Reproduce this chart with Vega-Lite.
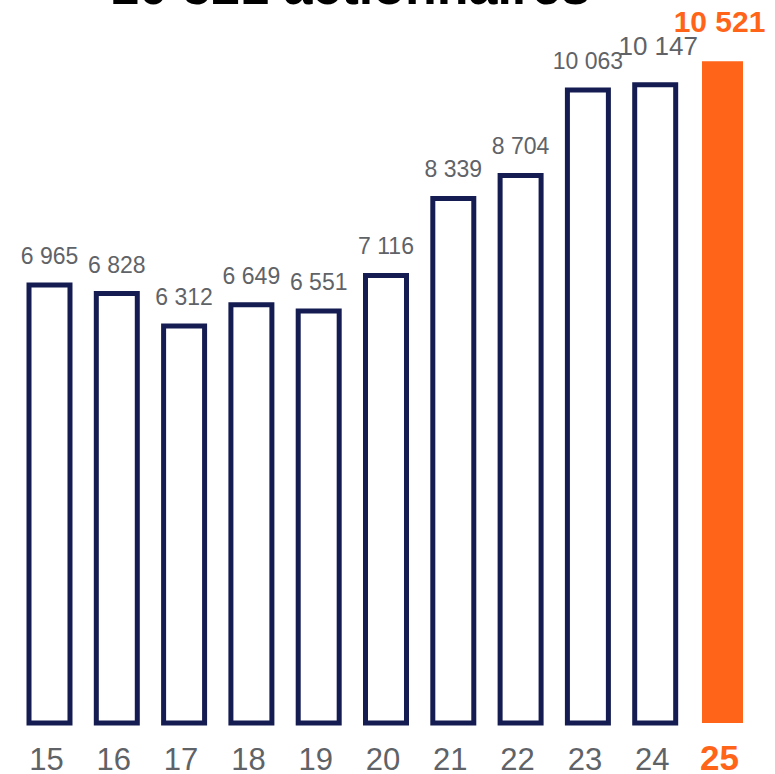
{
  "$schema": "https://vega.github.io/schema/vega-lite/v6.json",
  "autosize": {"type": "none"},
  "padding": {"left": 0, "top": 0, "right": 3, "bottom": 51},
  "width": 772,
  "height": 723,
  "background": "white",
  "config": {
    "view": {"stroke": null},
    "locale": {"number": {"decimal": ",", "thousands": " ", "grouping": [3], "currency": ["", " €"]}}
  },
  "data": {
    "values": [
      {"year": "15", "shareholders": 6965},
      {"year": "16", "shareholders": 6828},
      {"year": "17", "shareholders": 6312},
      {"year": "18", "shareholders": 6649},
      {"year": "19", "shareholders": 6551},
      {"year": "20", "shareholders": 7116},
      {"year": "21", "shareholders": 8339},
      {"year": "22", "shareholders": 8704},
      {"year": "23", "shareholders": 10063},
      {"year": "24", "shareholders": 10147},
      {"year": "25", "shareholders": 10521}
    ]
  },
  "encoding": {
    "x": {
      "field": "year",
      "type": "ordinal",
      "sort": null,
      "scale": {"paddingInner": 0.391, "paddingOuter": 0.431},
      "axis": {
        "title": null,
        "domain": false,
        "ticks": false,
        "tickSize": 0,
        "grid": false,
        "labelAngle": 0,
        "labelBaseline": "alphabetic",
        "labelPadding": 46,
        "labelOffset": -3,
        "labelFont": "Liberation Sans",
        "labelFontSize": {"condition": {"test": "datum.value === '25'", "value": 35}, "value": 31},
        "labelFontWeight": {"condition": {"test": "datum.value === '25'", "value": "bold"}, "value": "normal"},
        "labelColor": {"condition": {"test": "datum.value === '25'", "value": "#FF6418"}, "value": "#5F6367"}
      }
    },
    "y": {
      "field": "shareholders",
      "type": "quantitative",
      "scale": {"domain": [0, 11494], "nice": false, "zero": true},
      "axis": null
    }
  },
  "layer": [
    {
      "transform": [{"filter": "datum.year !== '25'"}],
      "mark": {"type": "bar", "fill": "white", "stroke": "#141C52", "strokeWidth": 5}
    },
    {
      "transform": [{"filter": "datum.year === '25'"}],
      "mark": {"type": "bar", "fill": "#FF6418"}
    },
    {
      "transform": [{"filter": "datum.year !== '25' && datum.year !== '24'"}],
      "mark": {"type": "text", "font": "Liberation Sans", "fontSize": 23, "color": "#5F6367", "baseline": "alphabetic", "dy": -21},
      "encoding": {"text": {"field": "shareholders", "type": "quantitative", "format": ","}}
    },
    {
      "transform": [{"filter": "datum.year === '24'"}],
      "mark": {"type": "text", "font": "Liberation Sans", "fontSize": 26, "color": "#5F6367", "baseline": "alphabetic", "dy": -30, "dx": 3},
      "encoding": {"text": {"field": "shareholders", "type": "quantitative", "format": ","}}
    },
    {
      "transform": [{"filter": "datum.year === '25'"}],
      "mark": {"type": "text", "font": "Liberation Sans", "fontSize": 30, "fontWeight": "bold", "color": "#FF6418", "baseline": "alphabetic", "dy": -29, "dx": -3},
      "encoding": {"text": {"field": "shareholders", "type": "quantitative", "format": ","}}
    },
    {
      "data": {"values": [{"heading": "10 521 actionnaires", "anchorYear": "20", "level": 11430}]},
      "mark": {"type": "text", "font": "Liberation Sans", "fontSize": 52, "fontWeight": "bold", "color": "#000000", "baseline": "alphabetic", "align": "center", "dx": -36, "clip": false},
      "encoding": {
        "x": {"field": "anchorYear", "type": "ordinal"},
        "y": {"field": "level", "type": "quantitative"},
        "text": {"field": "heading"}
      }
    }
  ]
}
